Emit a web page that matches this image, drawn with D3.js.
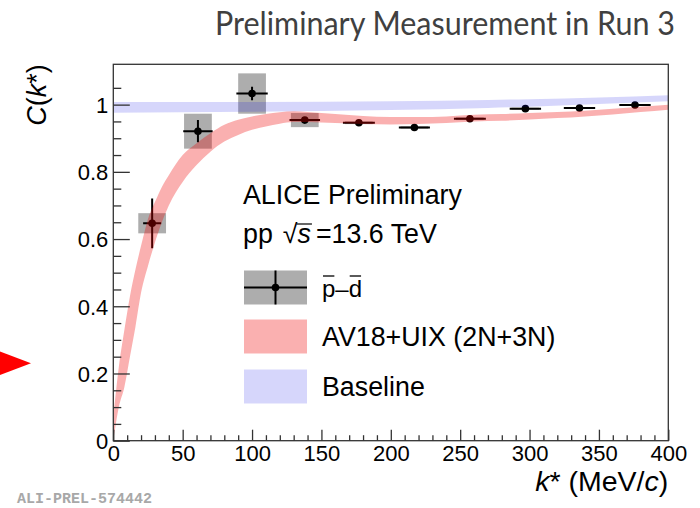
<!DOCTYPE html>
<html>
<head>
<meta charset="utf-8">
<script src="https://cdn.jsdelivr.net/npm/d3@7"></script>
<style>
body { margin: 0; background: #fff; }
svg { display: block; font-family: "Liberation Sans", Arial, Helvetica, sans-serif; }
</style>
</head>
<body>
<svg width="700" height="508"></svg>
<script>
// data points
var kStar   = [28, 61, 100, 138, 177, 217, 257, 297, 336, 376];
var cf      = [0.647, 0.921, 1.033, 0.954, 0.946, 0.932, 0.958, 0.988, 0.990, 0.999];
var statErr = [0.074, 0.033, 0.020, 0.008, 0.008, 0.008, 0.008, 0.007, 0.007, 0.007];
var systErr = [0.030, 0.052, 0.060, 0.021, 0.004, 0.004, 0.004, 0.003, 0.003, 0.003];
var kErr    = [6.5, 10.6, 11.3, 11, 11.5, 11.2, 11.5, 11.3, 11.3, 11.3];
var kSyst   = [10, 10, 10, 10, 10, 10, 10, 10, 10, 10];

// AV18+UIX band (2N+3N)
var kModel    = [0, 4, 8, 12, 16, 20, 25, 30, 35, 40, 50, 60, 70, 80, 90, 100, 110, 120, 130, 140, 160, 180, 200, 220, 240, 260, 280, 300, 320, 340, 360, 380, 400];
var modelLow  = [0.00, 0.10, 0.16, 0.25, 0.34, 0.44, 0.52, 0.59, 0.65, 0.70, 0.77, 0.82, 0.86, 0.89, 0.91, 0.925, 0.935, 0.943, 0.948, 0.948, 0.945, 0.942, 0.941, 0.942, 0.945, 0.950, 0.952, 0.956, 0.960, 0.965, 0.971, 0.978, 0.985];
var modelHigh = [0.07, 0.22, 0.33, 0.43, 0.51, 0.58, 0.66, 0.71, 0.755, 0.79, 0.85, 0.885, 0.915, 0.94, 0.955, 0.965, 0.972, 0.977, 0.980, 0.978, 0.972, 0.966, 0.963, 0.963, 0.965, 0.970, 0.972, 0.975, 0.978, 0.982, 0.988, 0.994, 1.000];

// baseline band
var kBase    = [0, 100, 200, 270, 300, 400];
var baseLow  = [0.976, 0.979, 0.984, 0.990, 0.994, 1.010];
var baseHigh = [1.008, 1.008, 1.010, 1.014, 1.016, 1.028];

var xTicks = [0, 50, 100, 150, 200, 250, 300, 350, 400];
var yTicks = [0, 0.2, 0.4, 0.6, 0.8, 1];

var legendText = ["p\u2013d", "AV18+UIX (2N+3N)", "Baseline"];

var frame = { left: 113.3, right: 668.3, top: 64.3, bottom: 440.7 };

var svg = d3.select('svg');

var x = d3.scaleLinear().domain([0, 400]).range([frame.left, frame.right]);
var y = d3.scaleLinear().domain([0, 1.12]).range([frame.bottom, frame.top]);

svg.append('defs').append('clipPath')
    .attr('id', 'plotClip')
  .append('rect')
    .attr('x', frame.left)
    .attr('y', frame.top)
    .attr('width', frame.right - frame.left)
    .attr('height', frame.bottom - frame.top);

var points = kStar.map(function(k, i) {
  return { k: k, c: cf[i], stat: statErr[i], syst: systErr[i], ke: kErr[i], ks: kSyst[i] };
});

var plot = svg.append('g').attr('clip-path', 'url(#plotClip)');

// systematic boxes
plot.selectAll('.syst')
    .data(points)
  .enter().append('rect')
    .attr('class', 'syst')
    .attr('x', function(d) { return x(d.k - d.ks); })
    .attr('y', function(d) { return y(d.c + d.syst); })
    .attr('width', function(d) { return x(d.k + d.ks) - x(d.k - d.ks); })
    .attr('height', function(d) { return y(d.c - d.syst) - y(d.c + d.syst); })
    .attr('fill', '#adadad');

// stat error bars
plot.selectAll('.xerr')
    .data(points)
  .enter().append('line')
    .attr('x1', function(d) { return x(d.k - d.ke); })
    .attr('x2', function(d) { return x(d.k + d.ke); })
    .attr('y1', function(d) { return y(d.c); })
    .attr('y2', function(d) { return y(d.c); })
    .attr('stroke', '#000')
    .attr('stroke-width', 2);

plot.selectAll('.yerr')
    .data(points)
  .enter().append('line')
    .attr('x1', function(d) { return x(d.k); })
    .attr('x2', function(d) { return x(d.k); })
    .attr('y1', function(d) { return y(d.c - d.stat); })
    .attr('y2', function(d) { return y(d.c + d.stat); })
    .attr('stroke', '#000')
    .attr('stroke-width', 2);

plot.selectAll('.marker')
    .data(points)
  .enter().append('circle')
    .attr('cx', function(d) { return x(d.k); })
    .attr('cy', function(d) { return y(d.c); })
    .attr('r', 3.8)
    .attr('fill', '#000');

// bands on top, semi transparent
var modelData = kModel.map(function(k, i) { return { k: k, lo: modelLow[i], hi: modelHigh[i] }; });
var baseData = kBase.map(function(k, i) { return { k: k, lo: baseLow[i], hi: baseHigh[i] }; });

var band = d3.area()
    .x(function(d) { return x(d.k); })
    .y0(function(d) { return y(d.lo); })
    .y1(function(d) { return y(d.hi); })
    .curve(d3.curveMonotoneX);

var redFill = 'rgb(240,0,0)', redAlpha = 0.31;
var blueFill = 'rgb(0,0,230)', blueAlpha = 0.16;

plot.append('path')
    .datum(baseData)
    .attr('d', band)
    .attr('fill', blueFill)
    .attr('fill-opacity', blueAlpha);

plot.append('path')
    .datum(modelData)
    .attr('d', band)
    .attr('fill', redFill)
    .attr('fill-opacity', redAlpha);

// frame
svg.append('rect')
    .attr('x', frame.left)
    .attr('y', frame.top)
    .attr('width', frame.right - frame.left)
    .attr('height', frame.bottom - frame.top)
    .attr('fill', 'none')
    .attr('stroke', '#333')
    .attr('stroke-width', 1.3);

// axes, ticks pointing inwards
var xAxis = svg.append('g')
    .attr('transform', 'translate(0,' + frame.bottom + ')')
    .call(d3.axisBottom(x).tickValues(xTicks).tickSizeInner(-11).tickSizeOuter(0).tickPadding(5).tickFormat(d3.format('d')));

var xMinor = svg.append('g')
    .attr('transform', 'translate(0,' + frame.bottom + ')')
    .call(d3.axisBottom(x).tickValues(d3.range(0, 401, 10).filter(function(v) { return v % 50 != 0; }))
      .tickSizeInner(-5.5).tickSizeOuter(0).tickFormat(''));

var yAxis = svg.append('g')
    .attr('transform', 'translate(' + frame.left + ',0)')
    .call(d3.axisLeft(y).tickValues(yTicks).tickSizeInner(-16.5).tickSizeOuter(0).tickPadding(5).tickFormat(d3.format('')));

var yMinor = svg.append('g')
    .attr('transform', 'translate(' + frame.left + ',0)')
    .call(d3.axisLeft(y).tickValues(d3.range(0, 22).map(function(v) { return v * 0.05; }).filter(function(v, i) { return i % 4 != 0; }))
      .tickSizeInner(-8).tickSizeOuter(0).tickFormat(''));

[xAxis, xMinor, yAxis, yMinor].forEach(function(a) {
  a.attr('font-family', null).attr('font-size', null);
  a.select('.domain').remove();
  a.selectAll('line').attr('stroke', '#333').attr('stroke-width', 1.3);
  a.selectAll('text')
    .attr('font-size', 22)
    .attr('fill', '#000');
});
xAxis.selectAll('text').attr('dy', '0.71em');
yAxis.selectAll('text').attr('dy', '0.36em');

// axis titles
var yTitle = svg.append('text')
    .attr('transform', 'translate(46,' + frame.top + ') rotate(-90)')
    .attr('text-anchor', 'end')
    .attr('font-size', 27);
yTitle.append('tspan').attr('font-style', 'italic').text('C');
yTitle.append('tspan').text('(');
yTitle.append('tspan').attr('font-style', 'italic').text('k');
yTitle.append('tspan').text('*)');

var xTitle = svg.append('text')
    .attr('x', frame.right)
    .attr('y', 491)
    .attr('text-anchor', 'end')
    .attr('font-size', 28.5);
xTitle.append('tspan').attr('font-style', 'italic').text('k');
xTitle.append('tspan').text('* (MeV/');
xTitle.append('tspan').attr('font-style', 'italic').text('c');
xTitle.append('tspan').text(')');

// legend
var legX = 243;
svg.append('text')
    .attr('x', legX)
    .attr('y', 204)
    .attr('font-size', 26.8)
    .text('ALICE Preliminary');

// pp sqrt(s) line built piece by piece so the root bar can sit over s
var parts = [
  { t: 'pp', italic: false, gap: 10 },
  { t: '\u221A', italic: false, gap: 0 },
  { t: 's', italic: true, gap: 5, bar: true },
  { t: '=13.6 TeV', italic: false, gap: 0 }
];
var cx = legX;
parts.forEach(function(p) {
  var t = svg.append('text')
      .attr('x', cx)
      .attr('y', 243)
      .attr('font-size', 26.8)
      .attr('font-style', p.italic ? 'italic' : null)
      .text(p.t);
  var w = t.node().getComputedTextLength();
  if (p.bar) {
    svg.append('line')
        .attr('x1', cx - 1).attr('x2', cx + w + 1)
        .attr('y1', 224).attr('y2', 224)
        .attr('stroke', '#000').attr('stroke-width', 1.2);
  }
  cx += w + p.gap;
});

var legRows = [287.5, 336.5, 386.5];
var boxX = 244, boxW = 63, boxH = 34;

svg.append('rect')
    .attr('x', boxX).attr('y', legRows[0] - boxH / 2)
    .attr('width', boxW).attr('height', boxH)
    .attr('fill', '#adadad');
svg.append('line')
    .attr('x1', boxX).attr('x2', boxX + boxW)
    .attr('y1', legRows[0]).attr('y2', legRows[0])
    .attr('stroke', '#000').attr('stroke-width', 2);
svg.append('line')
    .attr('x1', boxX + boxW / 2).attr('x2', boxX + boxW / 2)
    .attr('y1', legRows[0] - boxH / 2).attr('y2', legRows[0] + boxH / 2)
    .attr('stroke', '#000').attr('stroke-width', 2);
svg.append('circle')
    .attr('cx', boxX + boxW / 2).attr('cy', legRows[0])
    .attr('r', 3.8).attr('fill', '#000');

svg.append('rect')
    .attr('x', boxX).attr('y', legRows[1] - boxH / 2)
    .attr('width', boxW).attr('height', boxH)
    .attr('fill', redFill).attr('fill-opacity', redAlpha);
svg.append('rect')
    .attr('x', boxX).attr('y', legRows[2] - boxH / 2)
    .attr('width', boxW).attr('height', boxH)
    .attr('fill', blueFill).attr('fill-opacity', blueAlpha);

var legLabels = svg.selectAll('.leglabel')
    .data(legendText)
  .enter().append('text')
    .attr('class', 'leglabel')
    .attr('x', 322)
    .attr('y', function(d, i) { return legRows[i] + 9.5; })
    .attr('font-size', function(d, i) { return i == 0 ? 24 : 26.8; })
    .text(function(d) { return d; });

// bars over p and d (antiparticles)
var pdNode = legLabels.nodes()[0];
var pW = pdNode.getSubStringLength(0, 1);
var dStart = pdNode.getSubStringLength(0, 2);
var dW = pdNode.getSubStringLength(2, 1);
[[322 + 1, 322 + pW - 1], [322 + dStart + 1, 322 + dStart + dW - 1]].forEach(function(b) {
  svg.append('line')
      .attr('x1', b[0]).attr('x2', b[1])
      .attr('y1', 276).attr('y2', 276)
      .attr('stroke', '#000').attr('stroke-width', 1.3);
});

// slide title
svg.append('text')
    .attr('x', 675)
    .attr('y', 35)
    .attr('text-anchor', 'end')
    .attr('font-family', 'Lato, "Open Sans", sans-serif')
    .attr('font-size', 32)
    .attr('textLength', 460)
    .attr('lengthAdjust', 'spacingAndGlyphs')
    .attr('fill', '#404040')
    .text('Preliminary Measurement in Run 3');

// figure id
svg.append('text')
    .attr('x', 17)
    .attr('y', 503)
    .attr('font-family', '"Liberation Mono", "DejaVu Sans Mono", monospace')
    .attr('font-weight', 'bold')
    .attr('font-size', 15)
    .attr('fill', '#a8a8a8')
    .text('ALI-PREL-574442');

// red pointer on the left
svg.append('path')
    .attr('d', d3.line()([[0, 351.5], [31, 363.3], [0, 375]]) + 'Z')
    .attr('fill', '#ff0000');
</script>
</body>
</html>
